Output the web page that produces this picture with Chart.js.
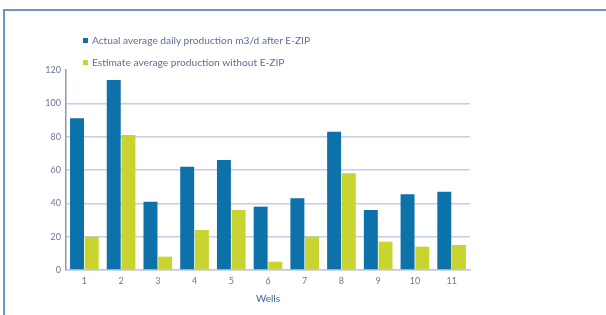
<!DOCTYPE html>
<html>
<head>
<meta charset="utf-8">
<script src="https://cdn.jsdelivr.net/npm/chart.js@4/dist/chart.umd.min.js"></script>
<style>
  html, body { margin: 0; padding: 0; background: #fff; overflow: hidden; }
  #wrap { position: relative; width: 606px; height: 315px; }
  #frame {
    position: absolute; left: 3px; top: 9px; width: 620px; height: 320px;
    border-top: 2px solid #6f97bd; border-left: 2px solid #6f97bd;
  }
  #legend { position: absolute; left: 83px; top: 32px; font-family: Lato, sans-serif; font-size: 10.2px; color: #5d6f98; }
  #legend div { height: 22px; line-height: 16px; white-space: nowrap; }
  #legend i { display: inline-block; width: 5px; height: 5px; margin-right: 4px; vertical-align: 1px; }
  canvas { position: absolute; left: 0; top: 0; }
</style>
</head>
<body>
<div id="wrap">
  <div id="frame"></div>
  <canvas id="chart" width="606" height="315"></canvas>
  <div id="legend"></div>
</div>
<script>
/* ── Дані ── */
var wells      = ['1', '2', '3', '4', '5', '6', '7', '8', '9', '10', '11'];
var actual     = [91, 114, 41, 62, 66, 38, 43, 83, 36, 45.5, 47];
var estimate   = [20, 81, 8, 24, 36, 5, 20, 58, 17, 14, 15];
var yTicks     = [0, 20, 40, 60, 80, 100, 120];
var seriesNames = [
  'Actual average daily production m3/d after E-ZIP',
  'Estimate average production without E-ZIP'
];
var xTitle = 'Wells';

var BLUE  = '#0d71aa';
var GREEN = '#c9d431';
var TEXT  = '#6b7899';

var chart = new Chart(document.getElementById('chart'), {
  type: 'bar',
  data: {
    labels: wells,
    datasets: [
      { label: seriesNames[0], data: actual,   backgroundColor: BLUE,  categoryPercentage: 0.8, barPercentage: 0.95 },
      { label: seriesNames[1], data: estimate, backgroundColor: GREEN, categoryPercentage: 0.8, barPercentage: 0.95 }
    ]
  },
  options: {
    responsive: false,
    animation: false,
    layout: { padding: { left: 40, right: 136, top: 70, bottom: 10 } },
    plugins: { legend: { display: false }, tooltip: { enabled: false } },
    scales: {
      x: {
        grid: { display: false, drawTicks: false },
        border: { color: '#c3c7de', width: 1.5 },
        ticks: { color: TEXT, font: { family: 'Lato', size: 9 }, padding: 6 },
        title: { display: true, text: xTitle, color: '#4562a0', font: { family: 'Lato', size: 10 }, padding: { top: 2, bottom: 0 } },
        afterFit: function (s) { s.height = 35; }
      },
      y: {
        min: 0, max: 120,
        afterBuildTicks: function (s) { s.ticks = yTicks.map(function (v) { return { value: v }; }); },
        grid: {
          // верхня лінія (120) в оригіналі відсутня
          color: function (ctx) { return ctx.tick && ctx.tick.value === 120 ? 'rgba(0,0,0,0)' : '#c9cce2'; },
          lineWidth: 1.5,
          drawTicks: false
        },
        border: { color: '#8c99b6', width: 1.5 },
        ticks: { color: TEXT, font: { family: 'Lato', size: 9 }, padding: 5 },
        afterFit: function (s) { s.width = 26; }
      }
    }
  }
});

/* ── Легенда ── */
var legendEl = document.getElementById('legend');
chart.data.datasets.forEach(function (ds) {
  var row = document.createElement('div');
  var box = document.createElement('i');
  box.style.background = ds.backgroundColor;
  row.appendChild(box);
  row.appendChild(document.createTextNode(ds.label));
  legendEl.appendChild(row);
});
</script>
</body>
</html>
